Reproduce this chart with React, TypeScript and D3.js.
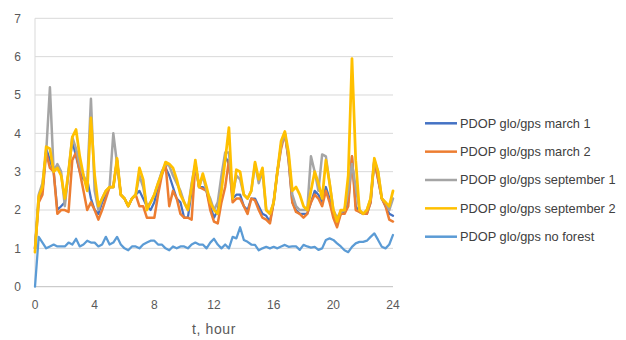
import React from "react";
import * as d3 from "d3";

// PDOP values sampled every 15 minutes over 24 hours
const STEP_HOURS = 0.25;

const march1 = [
  1.0, 2.3, 2.5, 3.6, 3.3, 3.0, 2.0, 2.1, 2.2, 3.0, 3.8, 3.4, 3.0, 2.8, 2.8, 2.3,
  2.0, 1.9, 2.2, 2.4, 2.6, 2.6, 3.3, 2.4, 2.3, 2.1, 2.3, 2.4, 2.5, 2.3, 2.1, 2.0,
  2.2, 2.6, 3.0, 3.1, 2.9, 2.6, 2.3, 2.2, 1.8, 1.8, 2.5, 3.2, 2.6, 2.6, 2.5, 2.1,
  1.8, 2.0, 2.6, 3.4, 3.2, 2.3, 2.4, 2.4, 2.1, 2.0, 2.3, 2.3, 2.1, 1.9, 1.85, 1.7,
  2.2, 3.0, 3.7, 4.0, 3.3, 2.2, 2.0, 1.9, 1.9, 1.9, 2.2, 2.5, 2.4, 2.2, 2.6, 2.3,
  1.9, 1.65, 1.9, 1.95, 2.2, 3.4, 2.1, 1.95, 1.9, 1.9, 2.2, 3.3, 2.8, 2.3, 2.1, 1.9,
  1.85,
];

const march2 = [
  1.0, 2.2, 2.4, 3.5, 3.1, 3.0, 1.9, 2.0, 2.0, 1.95, 3.3, 3.5, 3.0, 2.5, 2.0, 2.2,
  2.0, 1.75, 2.0, 2.3, 2.6, 2.6, 3.3, 2.4, 2.3, 2.1, 2.3, 2.4, 2.1, 2.1, 1.8, 1.8,
  1.8, 2.4, 2.9, 3.2, 2.1, 2.5, 2.3, 1.9, 1.8, 1.8, 1.75, 3.2, 2.6, 2.55, 2.5, 2.0,
  1.7, 1.65, 2.2, 2.6, 3.3, 2.2, 2.3, 2.3, 2.1, 1.9, 2.3, 2.25, 2.0, 1.8, 1.75, 1.65,
  2.2, 3.0, 3.6, 4.0, 3.3, 2.2, 1.95, 1.9, 1.8, 1.9, 2.2, 2.4, 2.3, 2.1, 2.5, 2.2,
  1.8, 1.55, 1.9, 1.9, 2.1, 3.4, 2.0, 1.95, 1.9, 1.9, 2.2, 3.3, 2.8, 2.3, 2.1, 1.75,
  1.7,
];

const september1 = [
  1.0, 2.4, 2.7, 3.5, 5.2, 3.0, 3.2, 3.0, 2.1, 3.0, 3.9, 3.6, 3.2, 2.9, 2.7, 4.9,
  2.5, 2.0, 2.3, 2.5, 2.6, 4.0, 3.2, 2.4, 2.3, 2.1, 2.3, 2.4, 2.9, 2.6, 2.1, 2.2,
  2.4, 2.7, 3.0, 3.2, 3.15, 2.9, 2.7, 2.5, 2.2, 2.0, 2.7, 3.2, 2.6, 2.9, 2.5, 2.3,
  2.0, 2.2, 2.9, 3.5, 3.5, 2.4, 2.9, 2.8, 2.4, 2.3, 2.5, 3.2, 2.7, 3.0, 2.0, 1.9,
  2.2, 3.0, 3.7, 4.0, 3.4, 2.4, 2.1, 2.0, 2.0, 2.0, 3.4, 3.0, 2.5, 3.45, 3.4, 2.7,
  2.0, 1.8, 1.95, 2.0, 2.5, 3.2, 2.6, 2.0, 1.9, 2.0, 2.3, 3.3, 3.0, 2.3, 2.2, 2.0,
  2.3,
];

const september2 = [
  0.9, 2.35, 2.6, 3.65, 3.6, 3.0, 3.1, 2.9, 2.3, 3.0, 3.9, 4.1, 3.4, 2.9, 2.5, 4.4,
  2.9, 2.1, 2.3, 2.5, 2.6, 2.6, 3.35, 2.4, 2.3, 2.1, 2.3, 2.4, 3.1, 2.8, 2.0, 2.2,
  2.4, 2.7, 2.95, 3.25, 3.2, 3.1, 2.8, 2.4, 2.2, 2.0, 2.6, 3.3, 2.6, 2.95, 2.6, 2.2,
  2.0, 1.9, 2.5, 3.3, 4.15, 2.3, 3.05, 3.0, 2.4, 2.3, 2.5, 3.25, 2.8, 3.1, 2.0, 1.9,
  2.2, 3.0, 3.8, 4.05, 3.5, 2.5, 2.6, 2.4, 2.1, 2.0, 2.5, 3.0, 2.7, 2.3, 3.3, 2.7,
  2.0, 1.7, 2.0, 2.0, 2.9, 5.95, 3.3, 2.0, 1.9, 2.0, 2.3, 3.35, 3.0, 2.3, 2.2, 2.1,
  2.5,
];

const noForest = [
  0.0, 1.3, 1.15, 1.0, 1.05, 1.1, 1.05, 1.05, 1.05, 1.15, 1.1, 1.25, 1.05, 1.1, 1.2, 1.15,
  1.15, 1.05, 1.1, 1.3, 1.1, 1.15, 1.3, 1.1, 1.0, 0.95, 1.05, 1.05, 1.0, 1.1, 1.15, 1.2,
  1.2, 1.1, 1.1, 1.0, 0.95, 1.05, 1.0, 1.05, 1.05, 1.0, 1.1, 1.15, 1.1, 1.1, 1.0, 1.15,
  1.25, 1.1, 1.0, 1.1, 1.0, 1.3, 1.26, 1.55, 1.22, 1.17, 1.1, 1.09, 0.95, 1.0, 1.04, 1.0,
  1.04, 1.0, 1.05, 1.09, 1.04, 1.05, 1.05, 0.96, 1.09, 1.05, 1.02, 1.04, 0.96, 1.0, 1.22, 1.26,
  1.22, 1.13, 1.05, 0.95, 0.9, 1.04, 1.13, 1.17, 1.17, 1.2, 1.3, 1.39, 1.22, 1.04, 1.0, 1.1,
  1.35,
];

const seriesNames = [
  "PDOP glo/gps march 1",
  "PDOP glo/gps march 2",
  "PDOP glo/gps september 1",
  "PDOP glo/gps september 2",
  "PDOP glo/gps no forest",
];
const seriesValues = [march1, march2, september1, september2, noForest];
const seriesColors = ["#4472C4", "#ED7D31", "#A5A5A5", "#FFC000", "#5B9BD5"];
const seriesWidths = [2.25, 2.5, 2.5, 2.75, 2.25];

const xTicks = [0, 4, 8, 12, 16, 20, 24];
const yTicks = [0, 1, 2, 3, 4, 5, 6, 7];
const xTitle = "t, hour";

const WIDTH = 626;
const HEIGHT = 340;
const plot = { left: 35, right: 393, top: 18.3, bottom: 286.7 };

export default function App() {
  const x = d3.scaleLinear().domain([0, 24]).range([plot.left, plot.right]);
  const y = d3.scaleLinear().domain([0, 7]).range([plot.bottom, plot.top]);

  const line = d3
    .line<number>()
    .x((_, i) => x(i * STEP_HOURS))
    .y((v) => y(v));

  const font = "'Liberation Sans', Arial, sans-serif";

  return (
    <svg
      width={WIDTH}
      height={HEIGHT}
      style={{ position: "absolute", left: 0, top: 0, background: "#fff" }}
      fontFamily={font}
    >
      <rect x={0} y={0} width={WIDTH} height={HEIGHT} fill="#fff" />

      {/* horizontal gridlines */}
      {yTicks.map((t) => (
        <line
          key={`g${t}`}
          x1={plot.left}
          x2={plot.right}
          y1={y(t)}
          y2={y(t)}
          stroke={t === 0 ? "#bfbfbf" : "#d9d9d9"}
          strokeWidth={1}
        />
      ))}
      {/* vertical axis line */}
      <line
        x1={plot.left}
        x2={plot.left}
        y1={y(7)}
        y2={y(0)}
        stroke="#d9d9d9"
        strokeWidth={1}
      />

      {/* y tick labels */}
      {yTicks.map((t) => (
        <text
          key={`yl${t}`}
          x={21}
          y={y(t)}
          dy="0.35em"
          textAnchor="end"
          fontSize={12}
          fill="#595959"
        >
          {t}
        </text>
      ))}

      {/* x tick labels */}
      {xTicks.map((t) => (
        <text
          key={`xl${t}`}
          x={x(t)}
          y={305}
          dy="0.35em"
          textAnchor="middle"
          fontSize={12}
          fill="#595959"
        >
          {t}
        </text>
      ))}

      <text
        x={(plot.left + plot.right) / 2}
        y={329}
        dy="0.35em"
        textAnchor="middle"
        fontSize={14}
        letterSpacing={0.6}
        fill="#595959"
      >
        {xTitle}
      </text>

      {/* series lines */}
      {seriesValues.map((vals, k) => (
        <path
          key={`s${k}`}
          d={line(vals) ?? ""}
          fill="none"
          stroke={seriesColors[k]}
          strokeWidth={seriesWidths[k]}
          strokeLinejoin="round"
          strokeLinecap="round"
        />
      ))}

      {/* legend */}
      {seriesNames.map((name, k) => {
        const ly = 123.3 + k * 28.35;
        return (
          <g key={`lg${k}`}>
            <line
              x1={425}
              x2={457}
              y1={ly}
              y2={ly}
              stroke={seriesColors[k]}
              strokeWidth={2.5}
            />
            <text x={460} y={ly} dy="0.35em" fontSize={12.8} fill="#404040">
              {name}
            </text>
          </g>
        );
      })}
    </svg>
  );
}
